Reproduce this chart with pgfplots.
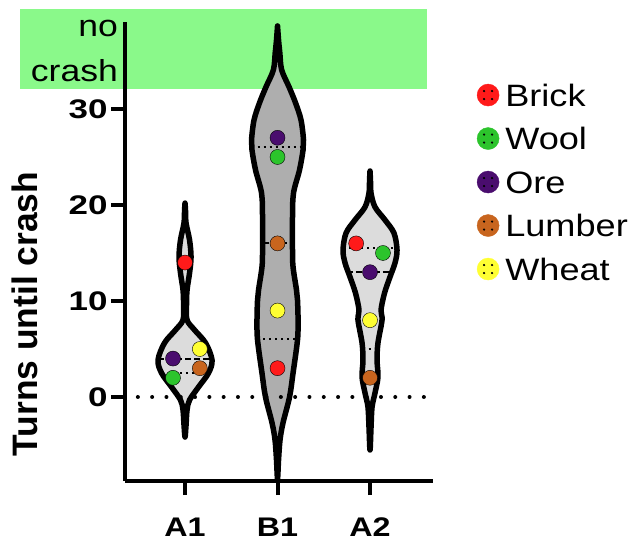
\documentclass[border=0pt]{standalone}
\usepackage{pgfplots}
\pgfplotsset{compat=1.18}
\usepackage{graphicx}
\usepackage{fontspec}
\setmainfont{Liberation Sans}
\definecolor{brick}{HTML}{FF1A1A}
\definecolor{wool}{HTML}{2CC42C}
\definecolor{ore}{HTML}{4A0D6E}
\definecolor{lumber}{HTML}{C8651E}
\definecolor{wheat}{HTML}{FFFF33}
\definecolor{band}{HTML}{8AF98A}
\definecolor{lightv}{HTML}{DCDCDC}
\definecolor{darkv}{HTML}{AEAEAE}
\newcommand{\sx}[1]{\scalebox{1.2}[1]{#1}}
\newcommand{\sy}[1]{\scalebox{1.3}[1]{#1}}
\newcommand{\slg}[1]{\scalebox{1.17}[1]{#1}}
\newcommand{\lrow}{\rule[-10bp]{0pt}{34bp}}
\pgfplotsset{
  res/.style={only marks, mark=*, mark size=7.5bp, mark options={draw=none, fill=#1},
    legend image code/.code={
      \fill[#1] (0bp,0bp) circle (11bp);
      \fill[black] (-4bp,4bp) circle (0.9bp) (4bp,4bp) circle (0.9bp) (-4bp,-4bp) circle (0.9bp) (4bp,-4bp) circle (0.9bp);
    }},
  vfill/.style={draw=none, fill=#1, smooth, tension=0.55, forget plot},
  vline/.style={draw=black, fill=none, line width=5.5bp, line join=round, smooth, tension=0.55, forget plot},
  med/.style={black, line width=2bp, dash pattern=on 6bp off 3bp, forget plot},
  qrt/.style={black, line width=2bp, dash pattern=on 2bp off 4bp, forget plot},
}
\begin{document}
\begin{tikzpicture}
\path[use as bounding box] (-125bp,-60bp) rectangle (507bp,481bp);
\begin{axis}[
  at={(0,0)}, anchor=south west,
  scale only axis, width=308bp, height=459bp,
  xmin=0.351, xmax=3.681, ymin=-8.75, ymax=39.06,
  axis x line*=bottom, axis y line*=left,
  axis line style={line width=4bp},
  axis on top,
  clip=false,
  xtick={1,2,3}, xticklabels={\sx{A1},\sx{B1},\sx{A2}},
  ytick={0,10,20,30}, yticklabels={\sy{0},\sy{10},\sy{20},\sy{30}},
  tick align=outside, major tick length=14bp,
  tick style={line width=4bp, black},
  tick label style={font=\fontsize{27}{32}\selectfont\bfseries},
  xticklabel style={yshift=-19bp},
  ylabel={\fontsize{35.5}{40}\selectfont\bfseries Turns until crash},
  every axis y label/.style={at={(axis description cs:-0.3247,0.364)}, rotate=90, anchor=center},
  legend cell align=left,
  legend style={at={(axis description cs:1.1419,0.869)}, anchor=north west, draw=none, fill=none,
    inner sep=0pt, row sep=18bp, column sep=6bp, font=\fontsize{31}{44}\selectfont, nodes={inner sep=0pt}},
]
% green "no crash" band
\addplot[draw=none, fill=band, forget plot] coordinates {(-0.784,32.08) (3.616,32.08) (3.616,40.42) (-0.784,40.42)} -- cycle;
\node[anchor=base east, inner sep=0pt, font=\fontsize{30.5}{36}\selectfont] at (axis cs:0.276,37.5) {\slg{no}};
\node[anchor=base east, inner sep=0pt, font=\fontsize{30.5}{36}\selectfont] at (axis cs:0.276,32.81) {\slg{crash}};

% ---- violin fills
\addplot[vfill=lightv] coordinates {(1,20.2) (1.005,19.48) (1.011,18.13) (1.049,16.35) (1.065,14.58) (1.049,12.92) (1.022,11.15) (1.016,9.58) (1.022,8.02) (1.103,6.98) (1.222,5.63) (1.292,3.85) (1.254,2.5) (1.146,1.04) (1.049,-0.31) (1.022,-1.35) (1.011,-2.92) (1,-4.17) (0.989,-2.92) (0.978,-1.35) (0.951,-0.31) (0.854,1.04) (0.746,2.5) (0.708,3.85) (0.778,5.63) (0.897,6.98) (0.978,8.02) (0.984,9.58) (0.978,11.15) (0.951,12.92) (0.935,14.58) (0.951,16.35) (0.989,18.13) (0.995,19.48) (1,20.2)} -- cycle;
\addplot[vfill=darkv] coordinates {(2,38.65) (2.011,37.19) (2.025,35.83) (2.045,34.06) (2.125,32.29) (2.195,30.63) (2.254,28.85) (2.281,26.77) (2.276,25.73) (2.238,23.65) (2.173,21.25) (2.162,18.75) (2.162,15.31) (2.168,13.54) (2.205,11.15) (2.216,10.10) (2.222,8.02) (2.216,5.94) (2.168,2.5) (2.130,0) (2.059,-2.71) (2.027,-4.48) (2.011,-6.56) (2,-8.5) (1.989,-6.56) (1.973,-4.48) (1.941,-2.71) (1.870,0) (1.832,2.5) (1.784,5.94) (1.778,8.02) (1.784,10.10) (1.795,11.15) (1.832,13.54) (1.838,15.31) (1.838,18.75) (1.827,21.25) (1.762,23.65) (1.724,25.73) (1.719,26.77) (1.746,28.85) (1.805,30.63) (1.875,32.29) (1.955,34.06) (1.975,35.83) (1.989,37.19) (2,38.65)} -- cycle;
\addplot[vfill=lightv] coordinates {(3,23.54) (3.005,22.60) (3.011,21.25) (3.054,19.79) (3.162,18.44) (3.259,17.08) (3.292,15.31) (3.270,13.96) (3.216,12.5) (3.157,10.83) (3.119,9.06) (3.130,8.02) (3.086,5.63) (3.076,3.85) (3.086,2.08) (3.054,0.42) (3.022,-1.04) (3.011,-3.13) (3,-5.52) (2.989,-3.13) (2.978,-1.04) (2.946,0.42) (2.914,2.08) (2.924,3.85) (2.914,5.63) (2.870,8.02) (2.881,9.06) (2.843,10.83) (2.784,12.5) (2.730,13.96) (2.708,15.31) (2.741,17.08) (2.838,18.44) (2.946,19.79) (2.989,21.25) (2.995,22.60) (3,23.54)} -- cycle;

% ---- medians and quartiles
\addplot[med] coordinates {(0.71,4) (1.29,4)};
\addplot[qrt] coordinates {(0.75,2.5) (1.25,2.5)};
\addplot[qrt] coordinates {(1.72,26) (2.28,26)};
\addplot[med] coordinates {(1.84,16) (2.16,16)};
\addplot[qrt] coordinates {(1.78,6) (2.22,6)};
\addplot[qrt] coordinates {(2.71,15.5) (3.29,15.5)};
\addplot[med] coordinates {(2.75,13) (3.25,13)};
\addplot[qrt] coordinates {(2.92,5) (3.08,5)};

% ---- violin outlines
\addplot[vline] coordinates {(1,20.2) (1.005,19.48) (1.011,18.13) (1.049,16.35) (1.065,14.58) (1.049,12.92) (1.022,11.15) (1.016,9.58) (1.022,8.02) (1.103,6.98) (1.222,5.63) (1.292,3.85) (1.254,2.5) (1.146,1.04) (1.049,-0.31) (1.022,-1.35) (1.011,-2.92) (1,-4.17) (0.989,-2.92) (0.978,-1.35) (0.951,-0.31) (0.854,1.04) (0.746,2.5) (0.708,3.85) (0.778,5.63) (0.897,6.98) (0.978,8.02) (0.984,9.58) (0.978,11.15) (0.951,12.92) (0.935,14.58) (0.951,16.35) (0.989,18.13) (0.995,19.48) (1,20.2)} -- cycle;
\addplot[vline] coordinates {(2,38.65) (2.011,37.19) (2.025,35.83) (2.045,34.06) (2.125,32.29) (2.195,30.63) (2.254,28.85) (2.281,26.77) (2.276,25.73) (2.238,23.65) (2.173,21.25) (2.162,18.75) (2.162,15.31) (2.168,13.54) (2.205,11.15) (2.216,10.10) (2.222,8.02) (2.216,5.94) (2.168,2.5) (2.130,0) (2.059,-2.71) (2.027,-4.48) (2.011,-6.56) (2,-8.5) (1.989,-6.56) (1.973,-4.48) (1.941,-2.71) (1.870,0) (1.832,2.5) (1.784,5.94) (1.778,8.02) (1.784,10.10) (1.795,11.15) (1.832,13.54) (1.838,15.31) (1.838,18.75) (1.827,21.25) (1.762,23.65) (1.724,25.73) (1.719,26.77) (1.746,28.85) (1.805,30.63) (1.875,32.29) (1.955,34.06) (1.975,35.83) (1.989,37.19) (2,38.65)} -- cycle;
\addplot[vline] coordinates {(3,23.54) (3.005,22.60) (3.011,21.25) (3.054,19.79) (3.162,18.44) (3.259,17.08) (3.292,15.31) (3.270,13.96) (3.216,12.5) (3.157,10.83) (3.119,9.06) (3.130,8.02) (3.086,5.63) (3.076,3.85) (3.086,2.08) (3.054,0.42) (3.022,-1.04) (3.011,-3.13) (3,-5.52) (2.989,-3.13) (2.978,-1.04) (2.946,0.42) (2.914,2.08) (2.924,3.85) (2.914,5.63) (2.870,8.02) (2.881,9.06) (2.843,10.83) (2.784,12.5) (2.730,13.96) (2.708,15.31) (2.741,17.08) (2.838,18.44) (2.946,19.79) (2.989,21.25) (2.995,22.60) (3,23.54)} -- cycle;

% ---- zero line
\addplot[black, line width=4bp, dash pattern=on 0bp off 14.3bp, line cap=round, forget plot] coordinates {(0.49,0) (3.67,0)};

% ---- data points
\addplot[res=brick] coordinates {(1,14) (2,3) (2.85,16)};
\addlegendentry{\lrow\slg{Brick}}
\addplot[res=wool] coordinates {(0.87,2) (2,25) (3.14,15)};
\addlegendentry{\lrow\slg{Wool}}
\addplot[res=ore] coordinates {(0.87,4) (2,27) (3,13)};
\addlegendentry{\lrow\slg{Ore}}
\addplot[res=lumber] coordinates {(1.16,3) (2,16) (3,2)};
\addlegendentry{\lrow\slg{Lumber}}
\addplot[res=wheat] coordinates {(1.16,5) (2,9) (3,8)};
\addlegendentry{\lrow\slg{Wheat}}
\end{axis}
\end{tikzpicture}
\end{document}
